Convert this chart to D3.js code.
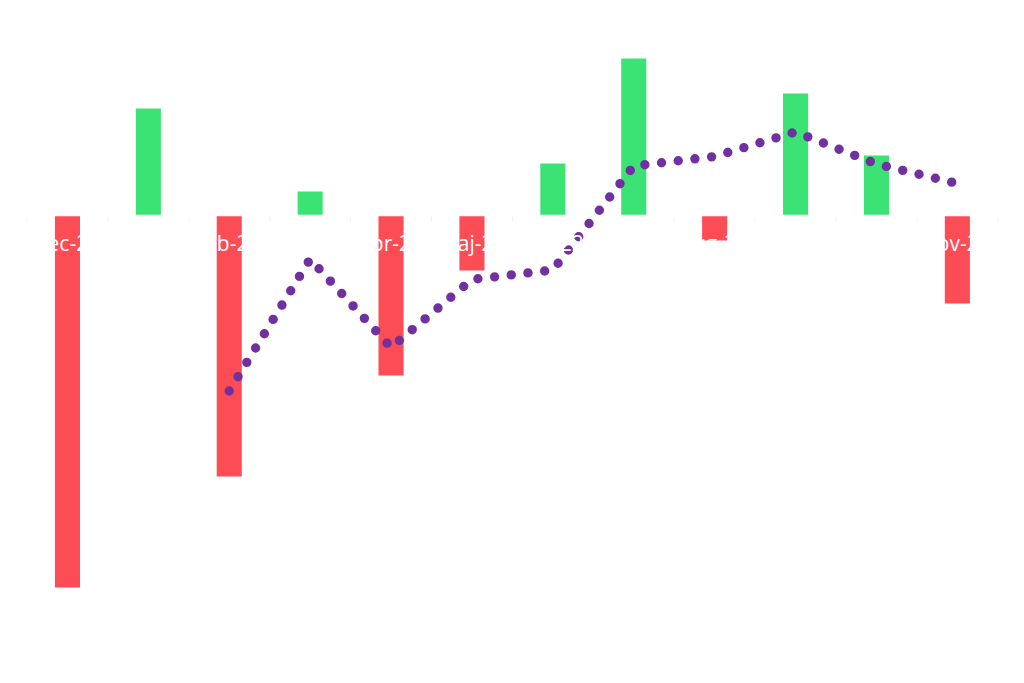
<!DOCTYPE html>
<html>
<head>
<meta charset="utf-8">
<script src="https://cdn.jsdelivr.net/npm/d3@7"></script>
<style>
  html, body { margin: 0; padding: 0; background: #ffffff; }
  svg { display: block; }
</style>
</head>
<body>
<svg id="chart" width="1024" height="683"></svg>
<script>
// month labels
var months = ["dec-21", "jan-22", "feb-22", "mar-22", "apr-22", "maj-22",
              "jun-22", "jul-22", "aug-22", "sep-22", "okt-22", "nov-22"];

// monthly change (bars)
var changes = [-372, 107, -261, 24, -160, -55, 52, 157, -25, 122, 60, -88];

// trend line, starts in feb
var trendMonths = ["feb-22", "mar-22", "apr-22", "maj-22", "jun-22",
                   "jul-22", "aug-22", "sep-22", "okt-22", "nov-22"];
var trendValues = [-175.5, -43.5, -132, -64, -54.5, 49.5, 59, 83.5, 51.5, 32];

var svg = d3.select("#chart");

// Scales
let xScale = d3.scaleBand()
  .domain(months)
  .range([27, 997.8])
  .paddingInner(0.69)
  .paddingOuter(0.345);

let yScale = d3.scaleLinear()
  .domain([-425, 175])
  .range([640.5, 40.5]);

let step = xScale.step();
let zeroY = yScale(0);

// Bars
svg.append("g").attr("id", "bars")
  .selectAll("rect")
  .data(changes)
  .enter().append("rect")
  .attr("x", (d, i) => xScale(months[i]))
  .attr("width", xScale.bandwidth())
  .attr("y", (d) => d >= 0 ? yScale(d) : zeroY)
  .attr("height", (d) => Math.abs(yScale(d) - zeroY))
  .attr("fill", (d) => d >= 0 ? "#3BE374" : "#FC4C55");

// Axis line + small tick marks between categories
let axisG = svg.append("g").attr("id", "x-axis");
axisG.append("line")
  .attr("x1", xScale.range()[0])
  .attr("x2", xScale.range()[1])
  .attr("y1", zeroY)
  .attr("y2", zeroY)
  .attr("stroke", "#ffffff")
  .attr("stroke-width", 1.5);

let tickPos = months.map((m) => xScale(m) + xScale.bandwidth() / 2 - step / 2);
tickPos.push(xScale(months[months.length - 1]) + xScale.bandwidth() / 2 + step / 2);
axisG.selectAll("line.tick")
  .data(tickPos)
  .enter().append("line")
  .attr("class", "tick")
  .attr("x1", (d) => d)
  .attr("x2", (d) => d)
  .attr("y1", zeroY + 1)
  .attr("y2", zeroY + 6)
  .attr("stroke", "#f2f2f2")
  .attr("stroke-width", 1);

// Dotted trend line
let line = d3.line()
  .x((d, i) => xScale(trendMonths[i]) + xScale.bandwidth() / 2)
  .y((d) => yScale(d));

svg.append("path")
  .datum(trendValues)
  .attr("d", line)
  .attr("fill", "none")
  .attr("stroke", "#7030A0")
  .attr("stroke-width", 9.4)
  .attr("stroke-linecap", "round")
  .attr("stroke-dasharray", "0 16.8");

// Category labels (white, drawn on top)
let labelAxis = d3.axisBottom(xScale).tickSize(0).tickPadding(0);
let labelG = svg.append("g")
  .attr("transform", "translate(0," + zeroY + ")")
  .call(labelAxis);
labelG.select(".domain").remove();
labelG.selectAll("text")
  .attr("y", 35)
  .attr("dy", 0)
  .style("fill", "#ffffff")
  .style("font-size", "21px")
  .style("font-family", "'Open Sans', sans-serif");
</script>
</body>
</html>
